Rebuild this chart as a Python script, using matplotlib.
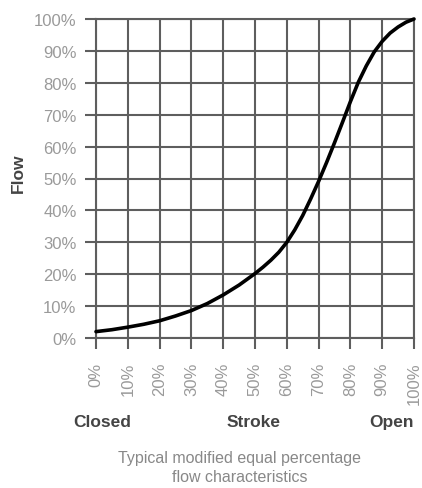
import matplotlib
matplotlib.use("Agg")
import matplotlib.pyplot as plt

stroke = [0, 5, 10, 15, 20, 25, 30, 35, 40, 45, 50, 52.5, 55, 57.5, 60, 62.5, 65, 67.5, 70,
          72.5, 75, 77.5, 80, 82.5, 85, 87.5, 90, 92.5, 95, 97.5, 100]
flow = [2.0, 2.6, 3.4, 4.3, 5.4, 6.9, 8.6, 10.8, 13.5, 16.6, 20.2, 22.2, 24.4, 26.9, 30.0, 33.9, 38.4, 43.6, 49.1,
        55.0, 61.2, 67.6, 74.1, 80.2, 85.3, 89.7, 93.0, 95.6, 97.5, 99.0, 100.0]
ticks = [0, 10, 20, 30, 40, 50, 60, 70, 80, 90, 100]
tick_labels = [f"{t}%" for t in ticks]

plt.rcParams['font.family'] = ['Liberation Sans', 'DejaVu Sans']

fig = plt.figure(figsize=(4.22, 4.89), dpi=100)
ax = fig.add_axes([96/422, 1 - 339/489, (414 - 96)/422, (339 - 20)/489])

grid_c = '#5e5e5e'
ax.set_xlim(0, 100)
ax.set_ylim(0, 100)
ax.set_xticks(ticks)
ax.set_yticks(ticks)
ax.set_xticklabels(tick_labels, rotation=90, va='top')
ax.set_yticklabels(tick_labels)
ax.grid(True, color=grid_c, linewidth=1.5)
ax.set_axisbelow(True)
for s in ax.spines.values():
    s.set_color(grid_c)
    s.set_linewidth(1.5)
ax.tick_params(axis='both', length=8, width=1.5, color=grid_c, labelcolor='#9a9a9a', labelsize=12)
ax.tick_params(axis='y', pad=6)
ax.tick_params(axis='x', pad=9)

ax.plot(stroke, flow, color='black', linewidth=2.6, solid_capstyle='round',
        solid_joinstyle='round', clip_on=False, zorder=5)

lab_c = '#444444'
fig.text(18/422, 1 - 173/489, 'Flow', rotation=90, ha='center', va='center',
         fontsize=12.5, fontweight='bold', color=lab_c)
fig.text(73/422, 1 - 423/489, 'Closed', ha='left', va='center', fontsize=12.5, fontweight='bold', color=lab_c)
fig.text(254/422, 1 - 423/489, 'Stroke', ha='center', va='center', fontsize=12.5, fontweight='bold', color=lab_c)
fig.text(414/422, 1 - 423/489, 'Open', ha='right', va='center', fontsize=12.5, fontweight='bold', color=lab_c)
fig.text(240/422, 1 - 468/489, 'Typical modified equal percentage\nflow characteristics',
         ha='center', va='center', fontsize=11.5, color='#888888', linespacing=1.3)

fig.savefig('out.png', dpi=100)
